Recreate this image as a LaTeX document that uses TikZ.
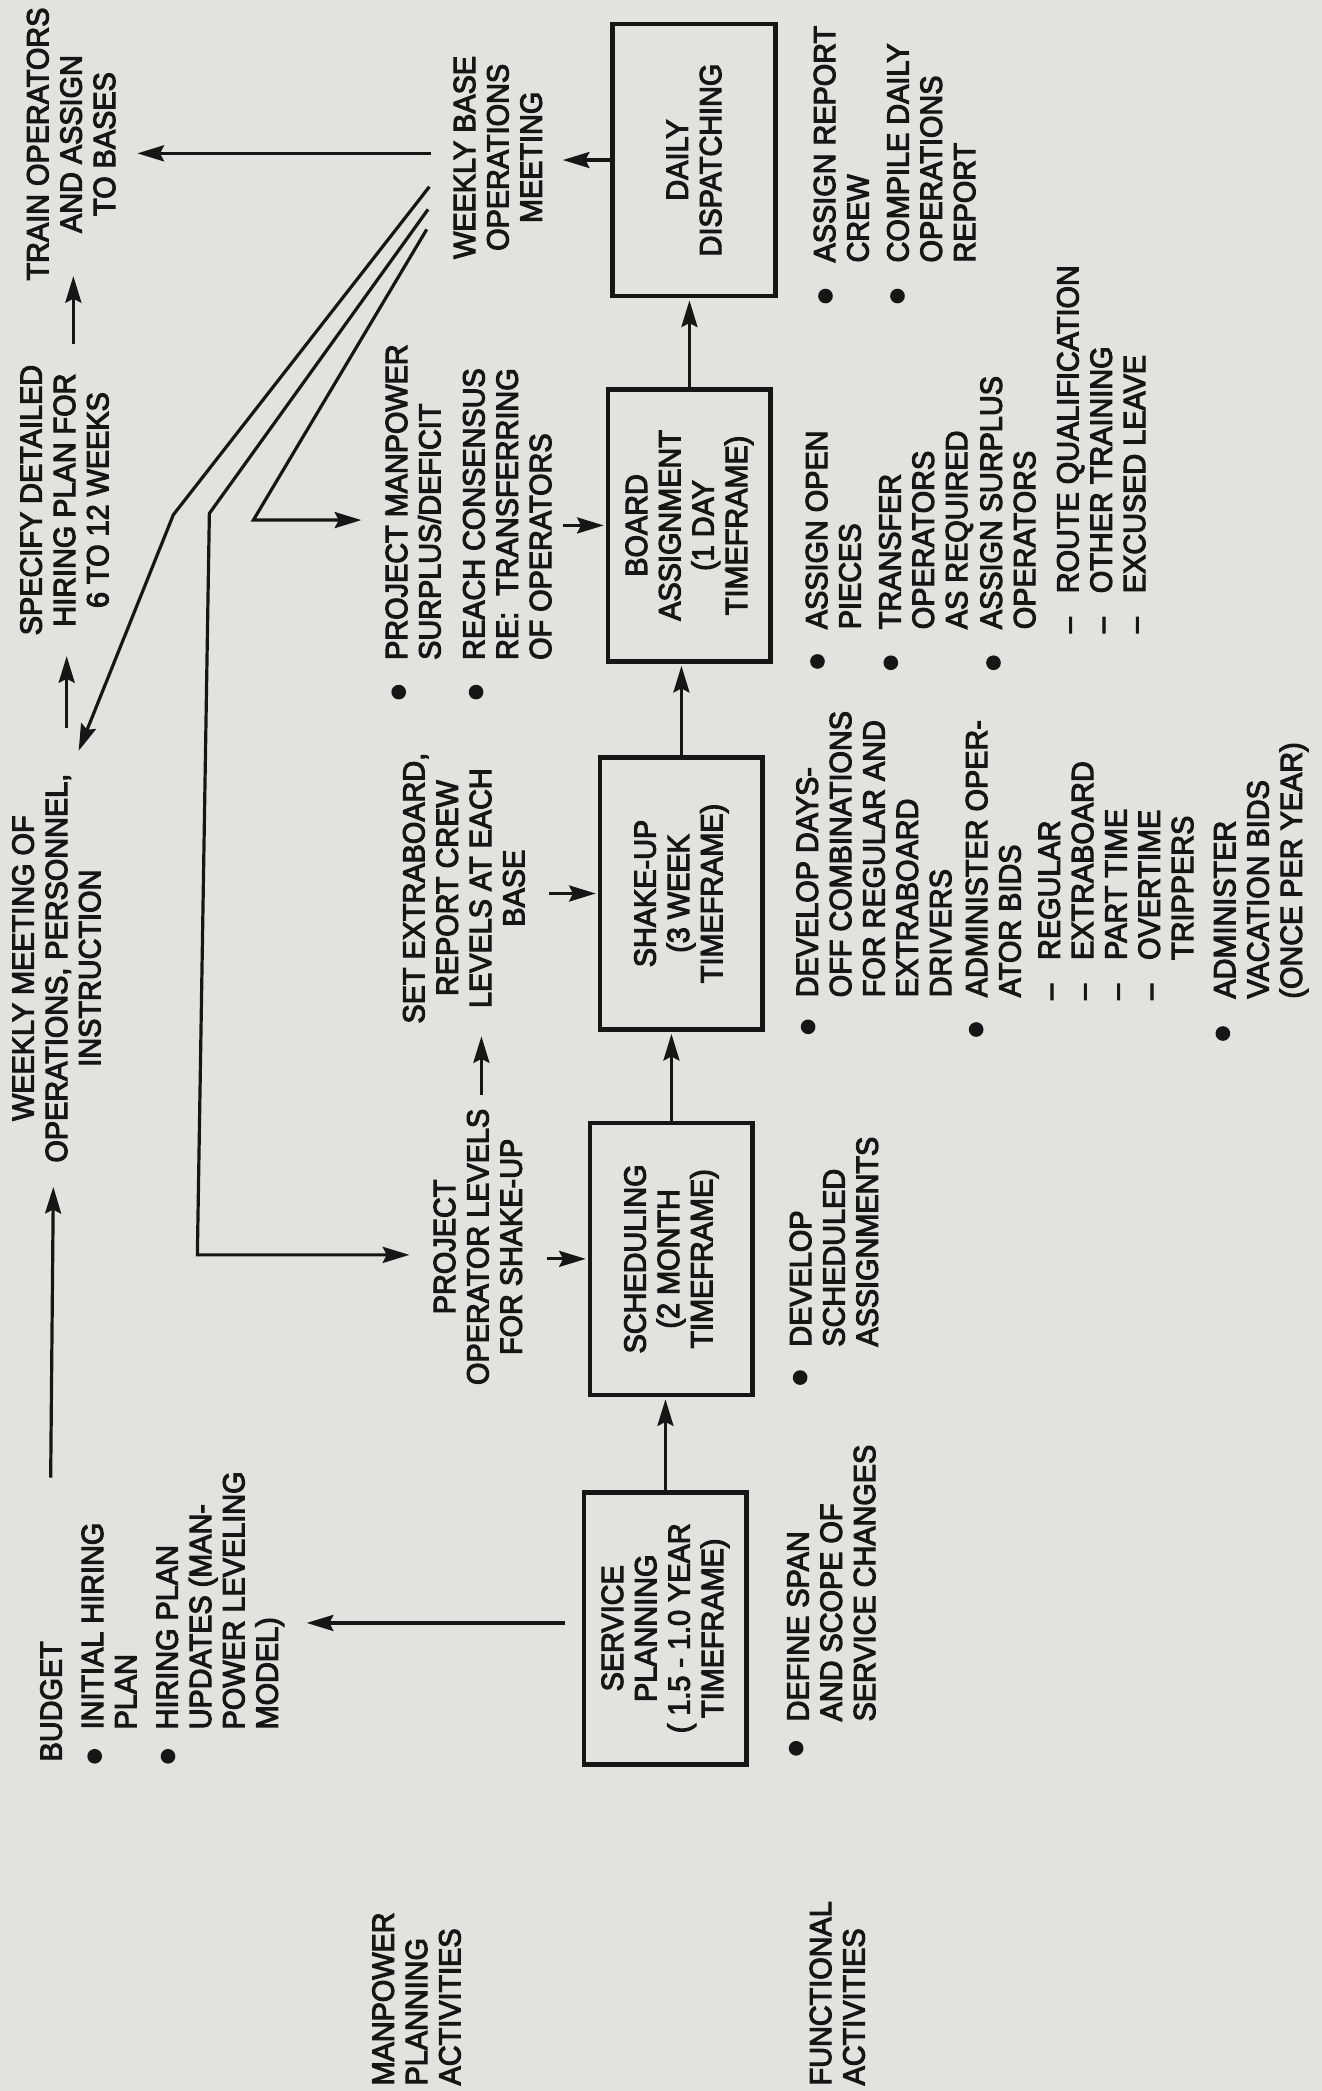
\documentclass[tikz,border=0pt]{standalone}
\usepackage{fontspec}
\newfontfamily\diag{Liberation Sans}[FakeStretch=0.94,FakeBold=3.5]
\usetikzlibrary{arrows.meta}
\definecolor{paper}{RGB}{226,227,222}
\definecolor{ink}{RGB}{22,22,22}
\begin{document}
\begin{tikzpicture}[x=1pt,y=-1pt,
  txt/.style={rotate=90, inner sep=0pt, text=ink, font=\diag\fontsize{23}{25}\selectfont},
  lst/.style={txt, align=left, anchor=north west},
  ctr/.style={txt, align=center, anchor=north},
  box/.style={txt, draw=ink, line width=3.5pt, align=center, minimum width=204pt, minimum height=122pt},
  conn/.style={draw=ink, line width=2.4pt},
  arr/.style={conn, -{Stealth[length=20pt,width=12pt,inset=3pt]}},
  dot/.style={fill=ink, circle, inner sep=0pt, minimum size=11pt}]
\useasboundingbox (0,0) rectangle (991,1568);
\fill[paper] (0,0) rectangle (991,1568);

% row labels
\node[lst] (mpa) at (279,1564) {MANPOWER\\PLANNING\\ACTIVITIES};
\node[lst] (fa) at (607,1564) {FUNCTIONAL\\ACTIVITIES};

% budget list
\node[lst] (budget) at (30,1321) {BUDGET};
\node[dot] (bu1) at (71,1317) {};
\node[lst] (ihp) at (61,1297) {INITIAL HIRING\\PLAN};
\node[dot] (bu2) at (126,1317) {};
\node[lst] (hpu) at (117,1297) {HIRING PLAN\\UPDATES (MAN-\\POWER LEVELING\\MODEL)};

% manpower row texts
\node[ctr] (wm) at (9,726) {WEEKLY MEETING OF\\OPERATIONS, PERSONNEL,\\INSTRUCTION};
\node[ctr] (spec) at (15,375) {SPECIFY DETAILED\\HIRING PLAN FOR\\6 TO 12 WEEKS};
\node[ctr] (train) at (20,108) {TRAIN OPERATORS\\AND ASSIGN\\TO BASES};
\node[ctr] (wb) at (340,118) {WEEKLY BASE\\OPERATIONS\\MEETING};
\node[ctr] (pol) at (325,935) {PROJECT\\OPERATOR LEVELS\\FOR SHAKE-UP};
\node[ctr] (setx) at (302,666) {SET EXTRABOARD,\\REPORT CREW\\LEVELS AT EACH\\BASE};
\node[dot] (bu3) at (299,519) {};
\node[lst] (pms) at (289,495) {PROJECT MANPOWER\\SURPLUS/DEFICIT};
\node[dot] (bu4) at (357,519) {};
\node[lst] (rc) at (347,495) {REACH CONSENSUS\\RE:\ \ TRANSFERRING\\OF OPERATORS};

% boxes
\node[box] (svc) at (499,1221) {SERVICE\\PLANNING\\( 1.5 - 1.0 YEAR\\TIMEFRAME)};
\node[box] (sch) at (503.5,944) {SCHEDULING\\(2 MONTH\\TIMEFRAME)};
\node[box] (shk) at (511,670) {SHAKE-UP\\(3 WEEK\\TIMEFRAME)};
\node[box] (brd) at (517,394) {BOARD\\ASSIGNMENT\\(1 DAY\\TIMEFRAME)};
\node[box] (dly) at (520.5,120) {DAILY\\DISPATCHING};

% functional lists
\node[dot] (bu5) at (597,1311) {};
\node[lst] (dss) at (590,1291) {DEFINE SPAN\\AND SCOPE OF\\SERVICE CHANGES};
\node[dot] (bu6) at (600,1033) {};
\node[lst] (dsa) at (592,1010) {DEVELOP\\SCHEDULED\\ASSIGNMENTS};
\node[dot] (bu7) at (606,770) {};
\node[lst] (ddo) at (597,748) {DEVELOP DAYS-\\OFF COMBINATIONS\\FOR REGULAR AND\\EXTRABOARD\\DRIVERS};
\node[dot] (bu8) at (732,772) {};
\node[lst] (aob) at (724,748) {ADMINISTER OPER-\\ATOR BIDS};
\node[lst] (bids) at (777,750) {\begin{tabular}{@{}l@{\hspace{18pt}}l@{}}–&REGULAR\\–&EXTRABOARD\\–&PART TIME\\–&OVERTIME\\&TRIPPERS\end{tabular}};
\node[dot] (bu9) at (917,775) {};
\node[lst] (avb) at (910,749) {ADMINISTER\\VACATION BIDS\\(ONCE PER YEAR)};

\node[dot] (bu10) at (613,496) {};
\node[lst] (aop) at (604,472) {ASSIGN OPEN\\PIECES};
\node[dot] (bu11) at (668,497) {};
\node[lst] (tra) at (659,472) {TRANSFER\\OPERATORS\\AS REQUIRED};
\node[dot] (bu12) at (745,497) {};
\node[lst] (asp) at (735,472) {ASSIGN SURPLUS\\OPERATORS};
\node[lst] (subl) at (791,475) {\begin{tabular}{@{}l@{\hspace{18pt}}l@{}}–&ROUTE QUALIFICATION\\–&OTHER TRAINING\\–&EXCUSED LEAVE\end{tabular}};

\node[dot] (bu13) at (619,222) {};
\node[lst] (arc) at (610,197) {ASSIGN REPORT\\CREW};
\node[dot] (bu14) at (673,222) {};
\node[lst] (cdo) at (665,197) {COMPILE DAILY\\OPERATIONS\\REPORT};

% connector points
\coordinate (bgtop) at (38,1108);
\coordinate (wmin) at (40,890);
\coordinate (wmout) at (50,546);
\coordinate (specin) at (50,492);
\coordinate (specout) at (55,258);
\coordinate (trainin) at (55,207);
\coordinate (wbout) at (323,115);
\coordinate (trainin2) at (103,115);
\coordinate (wbin) at (422,120);
\coordinate (l1a) at (322,140);
\coordinate (l1b) at (130,386);
\coordinate (l1c) at (59,563);
\coordinate (l2a) at (321,157);
\coordinate (l2b) at (157,385);
\coordinate (l2c) at (148,941);
\coordinate (l2d) at (307,941);
\coordinate (l3a) at (320,172);
\coordinate (l3b) at (190,390);
\coordinate (l3c) at (271,390);
\coordinate (polout) at (361,821);
\coordinate (setin) at (361,777);
\coordinate (polr) at (410,944);
\coordinate (setr) at (412,670);
\coordinate (rcr) at (422,394);
\coordinate (svcl) at (424,1217);
\coordinate (hpuin) at (230,1217);

% connectors
\draw[arr] (bgtop) -- (wmin);
\draw[arr] (wmout) -- (specin);
\draw[arr] (specout) -- (trainin);
\draw[arr] (wbout) -- (trainin2);
\draw[arr] (dly.north) -- (wbin);
\draw[arr] (l1a) -- (l1b) -- (l1c);
\draw[arr] (l2a) -- (l2b) -- (l2c) -- (l2d);
\draw[arr] (l3a) -- (l3b) -- (l3c);
\draw[arr] (polout) -- (setin);
\draw[arr, shorten >=1.5pt] (polr) -- (sch.north);
\draw[arr, shorten >=1.5pt] (setr) -- (shk.north);
\draw[arr, shorten >=1.5pt] (rcr) -- (brd.north);
\draw[arr] (svcl) -- (hpuin);
\draw[arr, shorten >=1.5pt] (svc.east) -- (svc.east |- sch.west);
\draw[arr, shorten >=1.5pt] (sch.east) -- (sch.east |- shk.west);
\draw[arr, shorten >=1.5pt] (shk.east) -- (shk.east |- brd.west);
\draw[arr, shorten >=1.5pt] (brd.east) -- (brd.east |- dly.west);
\end{tikzpicture}
\end{document}
